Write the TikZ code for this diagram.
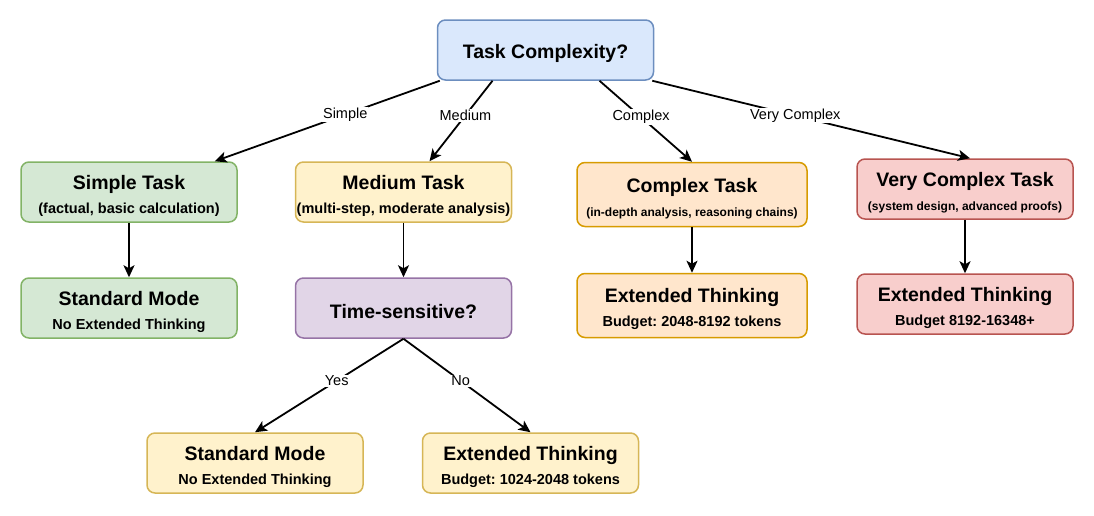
\documentclass[tikz,border=0pt]{standalone}
\usepackage{fontspec}
\setmainfont{Liberation Sans}
\frenchspacing
\usetikzlibrary{arrows.meta}
\definecolor{bluef}{HTML}{DAE8FC}\definecolor{blued}{HTML}{6C8EBF}
\definecolor{greenf}{HTML}{D5E8D4}\definecolor{greend}{HTML}{82B366}
\definecolor{yelf}{HTML}{FFF2CC}\definecolor{yeld}{HTML}{D6B656}
\definecolor{purf}{HTML}{E1D5E7}\definecolor{purd}{HTML}{9673A6}
\definecolor{oraf}{HTML}{FFE6CC}\definecolor{orad}{HTML}{D79B00}
\definecolor{redf}{HTML}{F8CECC}\definecolor{redd}{HTML}{B85450}
\newcommand{\ttl}{\fontsize{19.5}{24}\selectfont\bfseries\rule{0pt}{22pt}}
\newcommand{\sbt}{\fontsize{14.5}{24}\selectfont\bfseries}
\newcommand{\sbs}{\fontsize{12}{24}\selectfont\bfseries}
\tikzset{
  box/.style={draw, line width=1.5pt, rounded corners=8pt, minimum width=216pt, minimum height=60pt, align=center, inner sep=0pt, font=\fontsize{14.5}{24}\selectfont\bfseries},
  wide/.style={minimum width=230pt, minimum height=64pt},
  bluebox/.style={box, fill=bluef, draw=blued},
  greenbox/.style={box, fill=greenf, draw=greend},
  yelbox/.style={box, fill=yelf, draw=yeld},
  purbox/.style={box, fill=purf, draw=purd},
  orabox/.style={box, fill=oraf, draw=orad, wide},
  redbox/.style={box, fill=redf, draw=redd},
  conn/.style={line width=1.8pt, -{Stealth[length=12pt, width=11pt, inset=3pt]}},
  lbl/.style={fill=white, inner sep=1pt, font=\fontsize{14.5}{17}\selectfont, pos=0.45}
}
\begin{document}
\begin{tikzpicture}[x=1pt, y=-1pt]
\useasboundingbox (0,0) rectangle (1094,515);
\node[bluebox] (top) at (545.5,50) {\ttl Task Complexity?};
\node[greenbox] (simple) at (129,192) {\ttl Simple Task\\\sbt (factual, basic calculation)};
\node[greenbox] (std1) at (129,308) {\ttl Standard Mode\\\sbt No Extended Thinking};
\node[yelbox] (medium) at (403.5,192) {\ttl Medium Task\\\sbt (multi-step, moderate analysis)};
\node[purbox] (time) at (403.5,308) {\ttl Time-sensitive?};
\node[orabox] (complex) at (692,194.5) {\ttl Complex Task\\\sbs (in-depth analysis, reasoning chains)};
\node[orabox] (ext3) at (692,305.5) {\ttl Extended Thinking\\\sbt Budget: 2048-8192 tokens};
\node[redbox] (vc) at (965,189) {\ttl Very Complex Task\\\sbs (system design, advanced proofs)};
\node[redbox] (ext4) at (965,304) {\ttl Extended Thinking\\\sbt Budget 8192-16348+};
\node[yelbox] (std2) at (255,463) {\ttl Standard Mode\\\sbt No Extended Thinking};
\node[yelbox] (ext2) at (530.5,463) {\ttl Extended Thinking\\\sbt Budget: 1024-2048 tokens};

\draw[conn] ([xshift=3pt]top.south west) -- node[lbl, pos=0.42]{Simple} ([xshift=-23pt]simple.north east);
\draw[conn] ([xshift=-53pt]top.south) -- node[lbl, pos=0.43]{Medium} ([xshift=26pt]medium.north);
\draw[conn] ([xshift=54pt]top.south) -- node[lbl]{Complex} (complex.north);
\draw[conn] ([xshift=-2pt]top.south east) -- node[lbl]{Very Complex} ([xshift=5pt]vc.north);
\draw[conn] (simple) -- (std1);
\draw[conn] (medium) -- (time);
\draw[conn] (complex) -- (ext3);
\draw[conn] (vc) -- (ext4);
\draw[conn] (time.south) -- node[lbl]{Yes} (std2.north);
\draw[conn] (time.south) -- node[lbl]{No} (ext2.north);
\end{tikzpicture}
\end{document}
